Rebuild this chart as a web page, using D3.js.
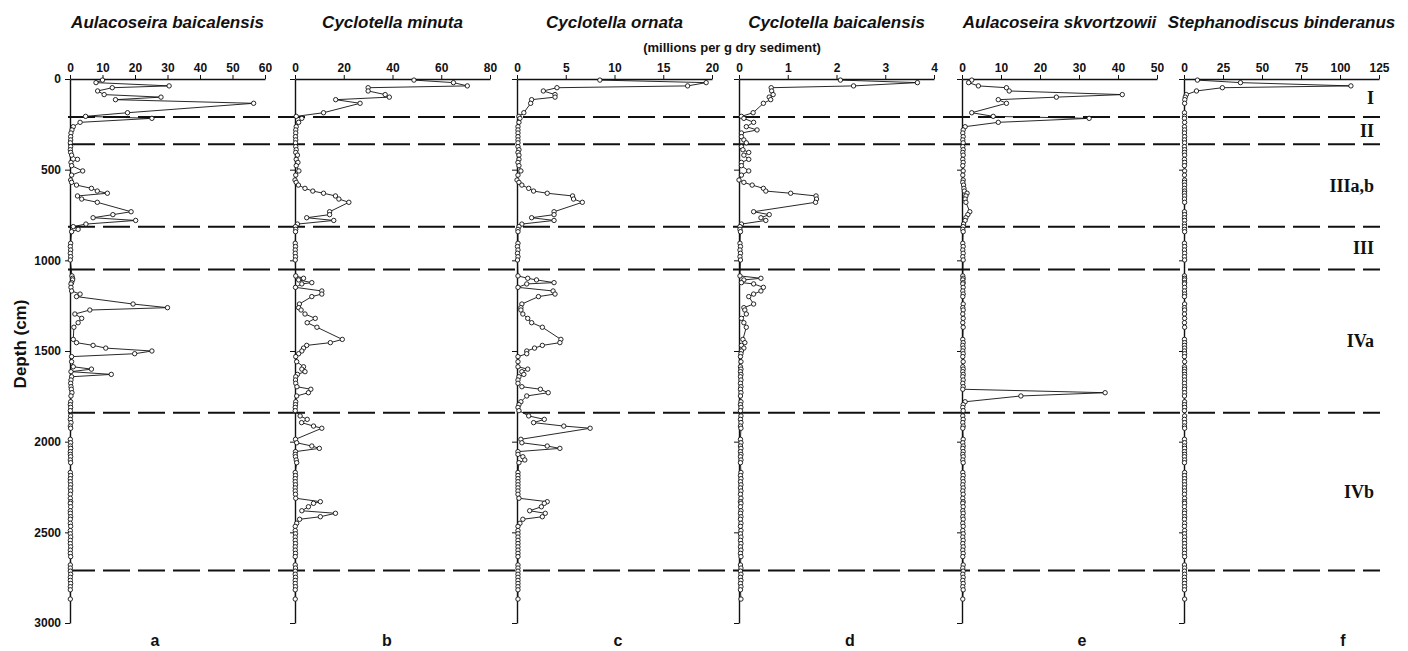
<!DOCTYPE html>
<html>
<head>
<meta charset="utf-8">
<script src="https://cdn.jsdelivr.net/npm/d3@7"></script>
<style>
  html, body { margin: 0; padding: 0; background: #fff; }
  svg { display: block; }
</style>
</head>
<body>
<svg id="chart"></svg>
<script>
// sample depths (cm), shared by every taxon
const depths = [
  6, 20, 38, 48, 66, 86, 100, 114, 134, 186, 206,
  217, 239, 263, 281, 298, 318, 336, 352,
  373, 390, 405, 420, 443, 460, 478, 507, 530, 557, 570, 585, 603, 618, 630, 645, 662, 680, 732, 748, 765, 780, 800, 814,
  829, 842, 906, 924, 943, 961, 980, 998,
  1086, 1099, 1108, 1123, 1130, 1149, 1169, 1186, 1200, 1241, 1261, 1274, 1296, 1320, 1344, 1369, 1436, 1454, 1469, 1484,
  1500, 1515, 1531, 1559, 1587, 1600, 1614, 1629, 1642, 1660, 1678, 1697, 1711, 1730, 1748, 1780, 1796, 1811, 1829,
  1858, 1877, 1895, 1914, 1926, 1987, 2006, 2024, 2037, 2055, 2070, 2083, 2101, 2116, 2170, 2187, 2204, 2221, 2238, 2255,
  2272, 2290, 2312, 2331, 2340, 2359, 2381, 2395, 2414, 2428, 2450, 2467, 2490, 2508, 2526, 2544, 2562, 2580, 2598, 2616,
  2634, 2680, 2697,
  2714, 2731, 2748, 2765, 2782, 2800, 2817, 2868
];

// millions of valves per g dry sediment, one value per depth
const aBaicalensis = [
  10, 8, 30.5, 13, 8.5, 10.5, 28, 14, 56.5, 17.7, 4.8,
  25.2, 3.1, 1, 0.6, 0.3, 0.2, 0.2, 0.1,
  0.2, 0.1, 0.2, 0.5, 2.3, 0.3, 0.5, 3.9, 0.5, 0.2, 0.5, 2, 6.6, 8.4, 11.5, 2.3, 3.6, 8.4, 18.8, 13.2, 7.1, 20.2, 4.9, 1,
  2.5, 0.5, 0.2, 0.1, 0.2, 0.1, 0.2, 0.1,
  0.6, 0.8, 0.8, 0.5, 0.3, 0.3, 0.5, 3.1, 2, 19.4, 30, 6.1, 1.5, 3.6, 2.5, 1.2, 1, 2, 7.1, 11,
  25.2, 19.9, 0.5, 0.5, 1, 6.6, 0.3, 12.7, 0.5, 0.3, 0.2, 0.3, 0.4, 0.6, 0.3, 0.2, 0.1, 0.2, 0.1,
  0.2, 0.1, 0.3, 0.1, 0.2, 0.1, 0.2, 0.1, 0.2, 0.1, 0.1, 0.2, 0.1, 0.2, 0.1, 0.2, 0.1, 0.1, 0.2, 0.1,
  0.2, 0.1, 0.1, 0.2, 0.1, 0.2, 0.1, 0.1, 0.2, 0.1, 0.1, 0.2, 0.1, 0.1, 0.2, 0.1, 0.1, 0.2, 0.1, 0.1,
  0.2, 0.1, 0.1,
  0.1, 0.2, 0.1, 0.1, 0.2, 0.1, 0.1, 0.1
];
const cMinuta = [
  48.8, 65, 70.7, 30, 30, 37, 38.7, 16.7, 26.7, 11.7, 0.5,
  2.8, 1.5, 0.5, 0.3, 0.3, 0.2, 0.3, 0.2,
  0.3, 0.5, 0.3, 1, 0.5, 1.2, 0.5, 1.6, 0.3, 0, 0.5, 1.4, 4.1, 7.3, 11.7, 16.6, 18, 22.1, 14.2, 14.2, 4.8, 15.9, 1, 0.2,
  0.3, 0.2, 0.1, 0.2, 0.1, 0.1, 0.2, 0.1,
  0.3, 3.5, 1.5, 6.9, 2.8, 0.2, 11, 11, 6.9, 1.8, 1.5, 2.5, 4.1, 8.3, 5, 9, 19.4, 14.5, 4.8, 3.5,
  2.8, 1.5, 0.3, 0.7, 3.5, 2.8, 4.1, 1, 0.3, 0.2, 0.3, 0.8, 6.5, 5.5, 0.7, 0.3, 0.2, 0.1, 0.1,
  2.1, 5, 2.7, 7.6, 11, 0.2, 0.7, 6.9, 10, 0.2, 0.1, 0.2, 0.5, 0.7, 0.1, 0.2, 0.1, 0.1, 0.2, 0.1,
  0.1, 0.2, 0.3, 10.4, 7.6, 5.5, 2.8, 16.6, 10.4, 1.9, 0.7, 0.1, 0.1, 0.2, 0.1, 0.1, 0.2, 0.1, 0.1, 0.2,
  0.1, 0.1, 0.2,
  0.1, 0.1, 0.2, 0.1, 0.1, 0.2, 0.1, 0.1
];
const cOrnata = [
  8.5, 19.4, 17.5, 4.1, 2.7, 3.9, 3.9, 1.5, 1.4, 0.7, 0.2,
  0.3, 0.2, 0.1, 0.1, 0.1, 0.1, 0.1, 0.1,
  0.1, 0.2, 0.1, 0.2, 0.2, 0.1, 0.2, 0.4, 0.1, 0, 0.2, 0.5, 1.2, 1.7, 3.1, 5.7, 5.8, 6.7, 3.8, 3.8, 1.5, 3.8, 0.5, 0.2,
  0.1, 0.1, 0.1, 0.05, 0.1, 0.05, 0.1, 0.05,
  0.1, 1.1, 2, 3.8, 1, 0.1, 3.7, 3.9, 2.2, 0.5, 0.4, 0.4, 0.6, 1.1, 1.5, 2.6, 4.5, 4.4, 2.6, 1.8,
  1, 1, 0.1, 0.1, 0.1, 1.1, 0.5, 0.7, 0.2, 0.1, 0.1, 0.5, 2.4, 3.2, 1, 0.4, 0.2, 0.1, 0.2,
  1.2, 2.8, 1.7, 4.8, 7.5, 0.4, 0.5, 3.1, 4.4, 0.1, 0.1, 0.6, 0.8, 0.2, 0.1, 0.1, 0.1, 0.1, 0.1, 0.1,
  0.1, 0.1, 0.2, 3.1, 2.8, 2.5, 1.3, 2.9, 2.6, 0.6, 0.3, 0.1, 0.1, 0.1, 0.1, 0.1, 0.1, 0.1, 0.1, 0.1,
  0.1, 0.1, 0.1,
  0.1, 0.1, 0.1, 0.1, 0.1, 0.1, 0.1, 0.1
];
const cBaicalensis = [
  2.08, 3.66, 2.35, 0.66, 0.67, 0.7, 0.62, 0.65, 0.5, 0.29, 0.05,
  0.1, 0.3, 0.15, 0.37, 0.05, 0.05, 0.1, 0.15,
  0.05, 0.08, 0.2, 0.1, 0.2, 0.05, 0.05, 0.2, 0.05, 0, 0.1, 0.27, 0.5, 0.55, 1.06, 1.58, 1.59, 1.57, 0.3, 0.62, 0.45, 0.55, 0.05, 0.02,
  0.02, 0.03, 0.02, 0.03, 0.02, 0.03, 0.02, 0.03,
  0.02, 0.45, 0.1, 0.05, 0.3, 0.5, 0.45, 0.3, 0.2, 0.3, 0.1, 0.12, 0.15, 0.05, 0.1, 0.15, 0.08, 0.12, 0.05, 0.1,
  0.05, 0.04, 0.03, 0.04, 0.03, 0.04, 0.03, 0.04, 0.03, 0.04, 0.03, 0.04, 0.03, 0.04, 0.03, 0.04, 0.03, 0.04, 0.03,
  0.04, 0.03, 0.04, 0.03, 0.04, 0.03, 0.04, 0.03, 0.04, 0.03, 0.04, 0.03, 0.04, 0.03, 0.04, 0.03, 0.04, 0.03, 0.04, 0.03,
  0.04, 0.03, 0.04, 0.03, 0.04, 0.03, 0.04, 0.03, 0.04, 0.03, 0.04, 0.03, 0.04, 0.03, 0.04, 0.03, 0.04, 0.03, 0.04, 0.03,
  0.04, 0.03, 0.04,
  0.03, 0.04, 0.03, 0.04, 0.03, 0.04, 0.03, 0.04
];
const aSkvortzowii = [
  2.5, 1.7, 4.2, 11.4, 12.1, 41.1, 24.2, 9.3, 11.4, 2.5, 8,
  32.6, 9.3, 0.8, 0.3, 0.2, 0.3, 0.2, 0.3,
  0.2, 0.3, 0.2, 0.3, 0.2, 0.3, 0.2, 0.3, 0.2, 0.3, 0.2, 0.4, 0.5, 0.6, 1.3, 1, 0.8, 1, 2, 1.5, 1, 0.8, 0.4, 0.3,
  0.2, 0.3, 0.2, 0.3, 0.2, 0.3, 0.2, 0.3,
  0.2, 0.3, 0.2, 0.3, 0.2, 0.3, 0.2, 0.3, 0.2, 0.3, 0.2, 0.3, 0.2, 0.3, 0.2, 0.3, 0.2, 0.3, 0.2, 0.3,
  0.2, 0.3, 0.2, 0.3, 0.2, 0.3, 0.2, 0.3, 0.2, 0.3, 0.2, 0.3, 0.2, 36.7, 15.1, 0.8, 0.3, 0.2, 0.3,
  0.2, 0.3, 0.2, 0.3, 0.2, 0.3, 0.2, 0.3, 0.2, 0.3, 0.2, 0.3, 0.2, 0.3, 0.2, 0.3, 0.2, 0.3, 0.2, 0.3,
  0.2, 0.3, 0.2, 0.3, 0.2, 0.3, 0.2, 0.3, 0.2, 0.3, 0.2, 0.3, 0.2, 0.3, 0.2, 0.3, 0.2, 0.3, 0.2, 0.3,
  0.2, 0.3, 0.2,
  0.3, 0.2, 0.3, 0.2, 0.3, 0.2, 0.3, 0.2
];
const sBinderanus = [
  8.6, 36.2, 107, 24.6, 8, 1.5, 0.8, 0.5, 0.4, 0.3, 0.4,
  0.3, 0.4, 0.3, 0.4, 0.3, 0.4, 0.3, 0.4,
  0.3, 0.4, 0.3, 0.4, 0.3, 0.4, 0.3, 0.4, 0.3, 0.4, 0.3, 0.4, 0.3, 0.4, 0.3, 0.4, 0.3, 0.4, 0.3, 0.4, 0.3, 0.4, 0.3, 0.4,
  0.3, 0.4, 0.3, 0.4, 0.3, 0.4, 0.3, 0.4,
  0.3, 0.4, 0.3, 0.4, 0.3, 0.4, 0.3, 0.4, 0.3, 0.4, 0.3, 0.4, 0.3, 0.4, 0.3, 0.4, 0.3, 0.4, 0.3, 0.4,
  0.3, 0.4, 0.3, 0.4, 0.3, 0.4, 0.3, 0.4, 0.3, 0.4, 0.3, 0.4, 0.3, 0.4, 0.3, 0.4, 0.3, 0.4, 0.3,
  0.4, 0.3, 0.4, 0.3, 0.4, 0.3, 0.4, 0.3, 0.4, 0.3, 0.4, 0.3, 0.4, 0.3, 0.4, 0.3, 0.4, 0.3, 0.4, 0.3,
  0.4, 0.3, 0.4, 0.3, 0.4, 0.3, 0.4, 0.3, 0.4, 0.3, 0.4, 0.3, 0.4, 0.3, 0.4, 0.3, 0.4, 0.3, 0.4, 0.3,
  0.4, 0.3, 0.4,
  0.3, 0.4, 0.3, 0.4, 0.3, 0.4, 0.3, 0.4
];

const taxa = ["Aulacoseira baicalensis", "Cyclotella minuta", "Cyclotella ornata",
  "Cyclotella baicalensis", "Aulacoseira skvortzowii", "Stephanodiscus binderanus"];
const panelLetters = ["a", "b", "c", "d", "e", "f"];
const series = [aBaicalensis, cMinuta, cOrnata, cBaicalensis, aSkvortzowii, sBinderanus];
const xMax = [60, 80, 20, 4, 50, 125];
const xStep = [10, 20, 5, 1, 10, 25];
const depthTicks = [0, 500, 1000, 1500, 2000, 2500, 3000];

// zone boundaries (cm) and zone names
const zoneBounds = [0, 210, 360, 815, 1050, 1840, 2710];
const zoneNames = ["I", "II", "IIIa,b", "III", "IVa", "IVb"];

// layout
const width = 1408, height = 651;
const panelLeft = [70, 295, 517, 739, 962, 1184];
const panelW = 195;
const yTop = 79, yBottom = 623;
const letterX = [155, 387, 618, 850, 1082, 1343];
const sans = "'Liberation Sans', Arial, Helvetica, sans-serif";
const ink = "#111";

series.forEach((s, i) => {
  if (s.length !== depths.length) console.warn(taxa[i], s.length, depths.length);
});

const svg = d3.select("#chart")
  .attr("width", width)
  .attr("height", height)
  .attr("viewBox", `0 0 ${width} ${height}`);

const y = d3.scaleLinear().domain([0, 3000]).range([yTop, yBottom]);

// --- zone boundaries (long dashes across all panels) ---
svg.append("g")
  .selectAll("line")
  .data(zoneBounds.slice(1))
  .join("line")
  .attr("x1", 68)
  .attr("x2", 1380)
  .attr("y1", d => y(d))
  .attr("y2", d => y(d))
  .attr("stroke", ink)
  .attr("stroke-width", 2)
  .attr("stroke-dasharray", "27,8");

// --- zone names ---
svg.append("g")
  .selectAll("text")
  .data(zoneNames)
  .join("text")
  .attr("x", 1374)
  .attr("y", (d, i) => y((zoneBounds[i] + zoneBounds[i + 1]) / 2))
  .attr("text-anchor", "end")
  .attr("dominant-baseline", "central")
  .style("font-family", "'Liberation Serif', 'Times New Roman', serif")
  .style("font-weight", "bold")
  .style("font-size", "18px")
  .style("fill", ink)
  .text(d => d);

// --- one panel per taxon ---
taxa.forEach((name, i) => {
  const left = panelLeft[i];
  const x = d3.scaleLinear().domain([0, xMax[i]]).range([left, left + panelW]);
  const g = svg.append("g");

  // top value axis
  const top = g.append("g")
    .attr("transform", `translate(0,${yTop})`)
    .call(d3.axisTop(x)
      .tickValues(d3.range(0, xMax[i] + xStep[i] / 2, xStep[i]))
      .tickFormat(d3.format("~g"))
      .tickSize(4)
      .tickSizeOuter(0)
      .tickPadding(3));
  top.select(".domain").attr("stroke", ink).attr("stroke-width", 1.6);
  top.selectAll(".tick line").attr("stroke", ink);
  top.selectAll(".tick text")
    .style("font-family", sans)
    .style("font-size", "12px")
    .style("font-weight", "bold")
    .style("fill", ink);

  // depth axis
  const depthAxis = g.append("g")
    .attr("transform", `translate(${left},0)`)
    .call(d3.axisLeft(y)
      .tickValues(depthTicks)
      .tickSize(5)
      .tickSizeOuter(0)
      .tickPadding(4)
      .tickFormat(i === 0 ? d3.format("d") : () => ""));
  depthAxis.select(".domain").attr("stroke", ink).attr("stroke-width", 1.4);
  depthAxis.selectAll(".tick line").attr("stroke", ink);
  depthAxis.selectAll(".tick text")
    .style("font-family", sans)
    .style("font-size", "12px")
    .style("font-weight", "bold")
    .style("fill", ink);

  const pts = depths.map((d, k) => ({ d, v: series[i][k] }));

  g.append("path")
    .datum(pts)
    .attr("fill", "none")
    .attr("stroke", ink)
    .attr("stroke-width", 0.9)
    .attr("d", d3.line().x(p => x(p.v)).y(p => y(p.d)));

  g.selectAll("circle")
    .data(pts)
    .join("circle")
    .attr("cx", p => x(p.v))
    .attr("cy", p => y(p.d))
    .attr("r", 2.2)
    .attr("fill", "#fff")
    .attr("stroke", ink)
    .attr("stroke-width", 0.9);

  // taxon title
  g.append("text")
    .attr("x", left + panelW / 2)
    .attr("y", 28)
    .attr("text-anchor", "middle")
    .style("font-family", sans)
    .style("font-size", "17px")
    .style("font-weight", "bold")
    .style("font-style", "italic")
    .style("fill", ink)
    .text(name);

  // panel letter
  g.append("text")
    .attr("x", letterX[i])
    .attr("y", 646)
    .attr("text-anchor", "middle")
    .style("font-family", sans)
    .style("font-size", "16px")
    .style("font-weight", "bold")
    .style("fill", ink)
    .text(panelLetters[i]);
});

// units
svg.append("text")
  .attr("x", 732)
  .attr("y", 52)
  .attr("text-anchor", "middle")
  .style("font-family", sans)
  .style("font-size", "13px")
  .style("font-weight", "bold")
  .style("fill", ink)
  .text("(millions per g dry sediment)");

// depth label
svg.append("text")
  .attr("transform", "translate(26,344) rotate(-90)")
  .attr("text-anchor", "middle")
  .style("font-family", sans)
  .style("font-size", "17px")
  .style("font-weight", "bold")
  .style("fill", ink)
  .text("Depth (cm)");
</script>
</body>
</html>
